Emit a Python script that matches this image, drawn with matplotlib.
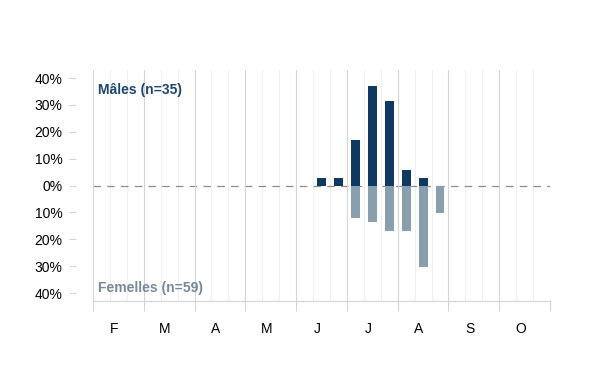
import matplotlib
matplotlib.use('Agg')
import matplotlib.pyplot as plt

plt.rcParams['font.family'] = ['Liberation Sans', 'DejaVu Sans']

# Monthly labels (Feb -> Oct), each month split in 3 decades
months = ['F', 'M', 'A', 'M', 'J', 'J', 'A', 'S', 'O']
# decade index (0 = first decade of February) of each bar
decades = [13, 14, 15, 16, 17, 18, 19, 20]
# share of captures per decade (%)
males_pct = [2.9, 2.9, 17.1, 37.1, 31.4, 5.7, 2.9, 0.0]
females_pct = [0.0, 0.0, 11.9, 13.6, 16.9, 16.9, 30.5, 10.2]
male_label = 'Mâles (n=35)'
female_label = 'Femelles (n=59)'

male_color = '#0e3a62'
female_color = '#8a9fad'

fig = plt.figure(figsize=(6, 3.9), dpi=100)
ax = fig.add_axes([0.155, 0.228, 0.7617, 0.5925])

n_dec = len(months) * 3
ax.set_xlim(0, n_dec)
ax.set_ylim(-43, 43)

# decade gridlines (very light)
for d in range(n_dec + 1):
    if d % 3:
        ax.axvline(d, color='#efefef', linewidth=0.8, zorder=0)

# month boundaries as minor ticks + grid
ax.set_xticks(range(0, n_dec + 1, 3), minor=True)
ax.grid(True, which='minor', axis='x', color='#d4d4d4', linewidth=0.8, zorder=0)
ax.tick_params(axis='x', which='minor', length=7, color='#d4d4d4', width=0.8)
# month labels (slightly left of month centre, as in the source)
ax.set_xticks([m * 3 + 1.25 for m in range(len(months))])
ax.set_xticklabels(months, fontsize=10)
ax.tick_params(axis='x', which='major', length=0, pad=15)

# zero line
ax.axhline(0, color='#8c8c8c', linewidth=0.9, dashes=(6, 5), zorder=1)

xs = [d + 0.5 for d in decades]
ax.bar(xs, males_pct, width=0.53, color=male_color, zorder=3)
ax.bar(xs, [-v for v in females_pct], width=0.53, color=female_color, zorder=3)

yt = [40, 30, 20, 10, 0, -10, -20, -30, -40]
ax.set_yticks(yt)
ax.set_yticklabels([f"{abs(v)}%" for v in yt], fontsize=10)
ax.tick_params(axis='y', length=5, color='#d4d4d4', width=0.8, pad=5)

for s in ['top', 'right', 'left']:
    ax.spines[s].set_visible(False)
ax.spines['left'].set_position(('outward', 12))
ax.spines['bottom'].set_color('#d4d4d4')
ax.spines['bottom'].set_linewidth(0.8)

ax.text(0.012, 0.915, male_label, transform=ax.transAxes, fontsize=10,
        fontweight='bold', color='#1c4670', ha='left', va='center')
ax.text(0.012, 0.058, female_label, transform=ax.transAxes, fontsize=10,
        fontweight='bold', color='#76899a', ha='left', va='center')

fig.savefig('out.png', dpi=100)
